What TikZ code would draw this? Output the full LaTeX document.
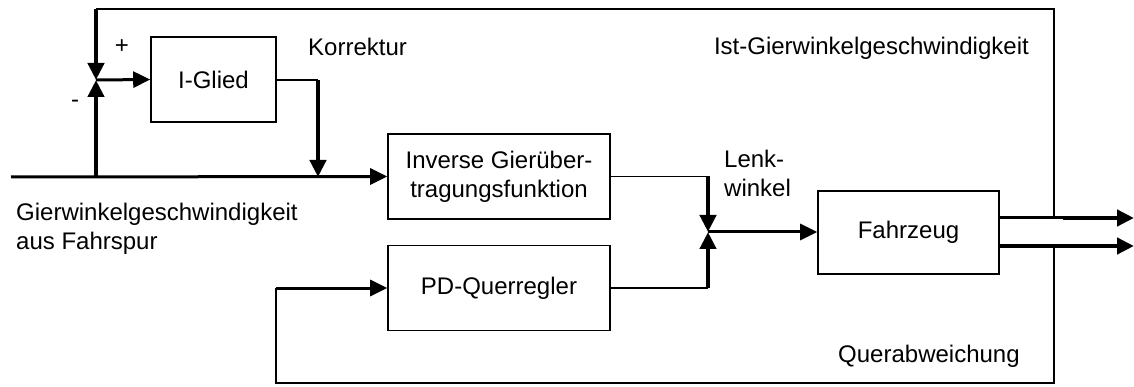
\documentclass[tikz,border=0pt]{standalone}
\usepackage{fontspec}
\setmainfont{Liberation Sans}
\usetikzlibrary{arrows.meta}

\begin{document}
\begin{tikzpicture}[x=1pt,y=-1pt,
  font=\fontsize{24}{29}\selectfont,
  block/.style={draw,line width=1.6pt,minimum height=85pt,inner sep=0pt,align=center},
  lbl/.style={inner sep=0pt,align=left},
  thinline/.style={line width=1.8pt},
  midline/.style={line width=3pt},
  thickline/.style={line width=4.5pt},
  tip/.style={-{Triangle[length=17pt 0 0,width=16pt 0 0]}},
  line join=miter]
\useasboundingbox (0,0) rectangle (1134,387);

% blocks
\node[block,minimum width=125pt] (ig)  at (213.5,79.5) {I-Glied};
\node[block,minimum width=222pt] (inv) at (499,176.5) {Inverse Gierüber-\\tragungsfunktion};
\node[block,minimum width=222pt] (pd)  at (499,288) {PD-Querregler};
\node[block,minimum width=181pt,minimum height=83pt] (fz) at (908.5,232.5) {Fahrzeug};

% signal points
\coordinate (in)   at (11,177);
\coordinate (b1)   at (96,177);
\coordinate (s1)   at (96,80);
\coordinate (tl)   at (96,9);
\coordinate (tr)   at (1054,9);
\coordinate (b2)   at (318,177);
\coordinate (k1)   at (318,80);
\coordinate (s2)   at (708,232);
\coordinate (u1)   at (708,176.5);
\coordinate (u2)   at (708,288);
\coordinate (fo1)  at (999,218);
\coordinate (fo2)  at (999,246);
\coordinate (o1)   at (1054,218);
\coordinate (o1b)  at (1063,218);
\coordinate (o2)   at (1054,246);
\coordinate (out1) at (1134,218);
\coordinate (out2) at (1134,246);
\coordinate (br)   at (1054,383);
\coordinate (bl)   at (276,383);
\coordinate (pdin) at (276,288);

% input and first summing point
\draw[midline,tip] (in) -- (inv.west);
\draw[thickline,tip] (b1) -- (s1);
\draw[thinline] (o1) -- (tr) -- (tl);
\draw[thickline,tip] (tl) -- (s1);
\draw[midline,tip] (s1) -- (ig.west);

% correction path
\draw[thinline] (ig.east |- k1) -- (k1);
\draw[thickline,tip] (k1) -- (b2);

% second summing point
\draw[thinline] (inv.east) -- (u1);
\draw[thickline,tip] (u1) -- (s2);
\draw[thinline] (pd.east) -- (u2);
\draw[thickline,tip] (u2) -- (s2);
\draw[midline,tip] (s2) -- (fz.west |- s2);

% vehicle outputs
\draw[midline] (fo1) -- (o1b);
\draw[thickline,tip] (o1b) -- (out1);
\draw[thickline,tip] (fo2) -- (out2);

% lateral deviation feedback
\draw[thinline] (o2) -- (br) -- (bl) -- (pdin);
\draw[midline,tip] (pdin) -- (pd.west);

% labels
\node[lbl] (lplus)  at (122,47) {+};
\node[lbl] (lminus) at (75,104) {-};
\node[lbl,anchor=base west] (lkorr) at (308,56) {Korrektur};
\node[lbl,anchor=base east] (list) at (1029,55) {Ist-Gierwinkelgeschwindigkeit};
\node[lbl,anchor=west] (lgier) at (16,229) {Gierwinkelgeschwindigkeit\\aus Fahrspur};
\node[lbl,anchor=west] (llenk) at (724,173) {Lenk-\\winkel};
\node[lbl,anchor=base west] (lquer) at (838,362) {Querabweichung};
\end{tikzpicture}
\end{document}
